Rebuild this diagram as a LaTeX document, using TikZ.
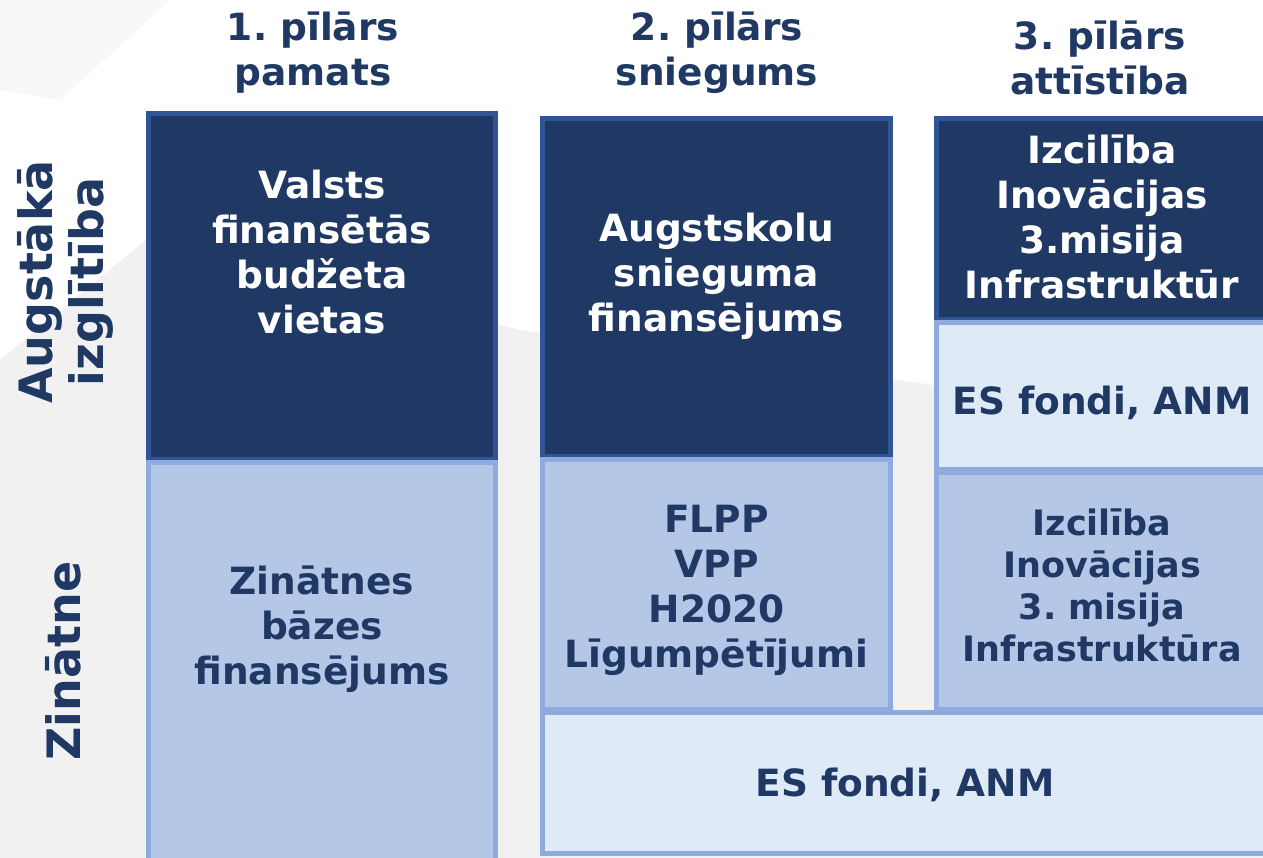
\documentclass[tikz,border=0pt]{standalone}
\usepackage{fontspec}
\setmainfont{DejaVu Sans}
\usepackage{xcolor}
\definecolor{navy}{HTML}{203864}
\definecolor{navyline}{HTML}{2F5597}
\definecolor{midblue}{HTML}{B4C7E7}
\definecolor{paleblue}{HTML}{DEEAF6}
\definecolor{blueline}{HTML}{8FAADC}
\definecolor{bggray}{HTML}{F2F1F2}
\frenchspacing

\tikzset{
  darkbox/.style={rectangle, fill=navy, draw=navyline, line width=5pt},
  midbox/.style={rectangle, fill=midblue, draw=blueline, line width=5pt},
  palebox/.style={rectangle, fill=paleblue, draw=blueline, line width=5pt},
  words/.style={align=center, font=\bfseries\fontsize{37.5}{45}\selectfont},
  lightwords/.style={words, text=white},
  heading/.style={words, text=navy},
  sidelabel/.style={heading, rotate=90, font=\bfseries\fontsize{46}{51}\selectfont}
}

\begin{document}
\begin{tikzpicture}[x=1pt, y=-1pt]
\useasboundingbox (0,0) rectangle (1263,858);
\clip (0,0) rectangle (1263,858);
\fill[white] (0,0) rectangle (1263,858);
\fill[bggray] (0,858) -- (0,360) -- (146,240) -- (520,330) -- (934,385)
      -- (1263,400) -- (1263,858) -- cycle;
\fill[bggray!50] (0,0) -- (170,0) -- (60,100) -- (0,90) -- cycle;

\node [darkbox, minimum width=347pt, minimum height=346pt]
       (base) at (322,286.5) {};
\node [midbox, minimum width=347pt, minimum height=405pt]
       (basesci) at (322,665) {};
\node [darkbox, minimum width=348pt, minimum height=338pt]
       (perf) at (716.5,287.5) {};
\node [midbox, minimum width=348pt, minimum height=250pt]
       (perfsci) at (716.5,584.5) {};
\node [darkbox, minimum width=331pt, minimum height=201pt]
       (devel) at (1102,219) {};
\node [palebox, minimum width=331pt, minimum height=147pt]
       (develfund) at (1102,396) {};
\node [midbox, minimum width=331pt, minimum height=237pt]
       (develsci) at (1102,591) {};
\node [palebox, minimum width=725pt, minimum height=141pt]
       (scifund) at (905,783) {};

\node [lightwords] (basetxt) at (322,252) {Valsts\\finansētās\\budžeta\\vietas};
\node [heading] (basescitxt) at (322,629) {Zinātnes\\bāzes\\finansējums};
\node [lightwords] (perftxt) at (716.5,276.5) {Augstskolu\\snieguma\\finansējums};
\node [heading] (perfscitxt) at (716.5,590.5) {FLPP\\VPP\\H2020\\Līgumpētījumi};
\node [lightwords] (develtxt) at (1102,217) {Izcilība\\Inovācijas\\3.misija\\Infrastruktūr};
\node [heading] (develfundtxt) at (1102,403) {ES fondi, ANM};
\node [heading, font=\bfseries\fontsize{35}{42}\selectfont]
       (develscitxt) at (1102,585) {Izcilība\\Inovācijas\\3. misija\\Infrastruktūra};
\node [heading] (scifundtxt) at (905,785) {ES fondi, ANM};

\node [heading] (p1) at (313,53) {1. pīlārs\\pamats};
\node [heading] (p2) at (717,53) {2. pīlārs\\sniegums};
\node [heading] (p3) at (1100,58) {3. pīlārs\\attīstība};

\node [sidelabel] (hedu) at (65,282) {Augstākā\\izglītība};
\node [sidelabel] (hsci) at (63,661) {Zinātne};
\end{tikzpicture}
\end{document}
